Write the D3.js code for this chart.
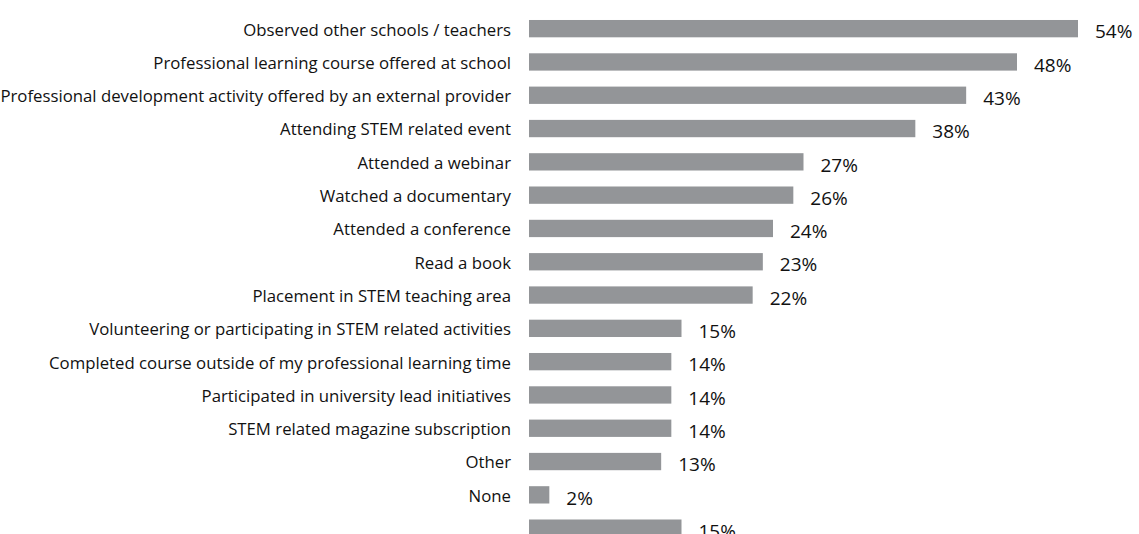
<!DOCTYPE html>
<html>
<head>
<meta charset="utf-8">
<script src="https://cdn.jsdelivr.net/npm/d3@7"></script>
<style>
  body { margin: 0; background: #fff; overflow: hidden; }
  svg text { font-family: "Open Sans", Lato, sans-serif; fill: #111; }
</style>
</head>
<body>
<svg id="chart" width="1139" height="534"></svg>
<script>
var categories = [
  "Observed other schools / teachers",
  "Professional learning course offered at school",
  "Professional development activity offered by an external provider",
  "Attending STEM related event",
  "Attended a webinar",
  "Watched a documentary",
  "Attended a conference",
  "Read a book",
  "Placement in STEM teaching area",
  "Volunteering or participating in STEM related activities",
  "Completed course outside of my professional learning time",
  "Participated in university lead initiatives",
  "STEM related magazine subscription",
  "Other",
  "None",
  ""
];
var values = [54, 48, 43, 38, 27, 26, 24, 23, 22, 15, 14, 14, 14, 13, 2, 15];

var svg = d3.select("#chart"),
    LEFT = 529,
    TOP = 12,
    STEP = 33.3;

var xScale = d3.scaleLinear()
    .domain([0, 54])
    .range([LEFT, 1078]);

var yScale = d3.scaleBand()
    .domain(d3.range(categories.length))
    .range([TOP, TOP + STEP * categories.length])
    .paddingInner(0.48)
    .paddingOuter(0.24);

svg.selectAll("rect.bar")
    .data(values)
  .enter().append("rect")
    .attr("class", "bar")
    .attr("x", xScale(0))
    .attr("y", function(d, i) { return yScale(i); })
    .attr("width", function(d) { return xScale(d) - xScale(0); })
    .attr("height", yScale.bandwidth())
    .attr("fill", "#939598");

var cats = svg.selectAll("text.cat")
    .data(categories)
  .enter().append("text")
    .attr("class", "cat")
    .attr("x", 511)
    .attr("y", function(d, i) { return yScale(i) + yScale.bandwidth() / 2 + 1; })
    .attr("dy", "0.35em")
    .attr("text-anchor", "end")
    .style("font-size", "14px")
    .text(function(d) { return d; });

// size labels so the longest one spans the left margin like the original
var widest = d3.max(cats.nodes(), function(n) { return n.getComputedTextLength(); });
cats.style("font-size", (14 * 511 / widest) + "px");

svg.selectAll("text.val")
    .data(values)
  .enter().append("text")
    .attr("class", "val")
    .attr("x", function(d) { return xScale(d) + 17; })
    .attr("y", function(d, i) { return yScale(i) + yScale.bandwidth() / 2 + 3; })
    .attr("dy", "0.35em")
    .style("font-size", "19px")
    .text(function(d) { return d + "%"; });
</script>
</body>
</html>
